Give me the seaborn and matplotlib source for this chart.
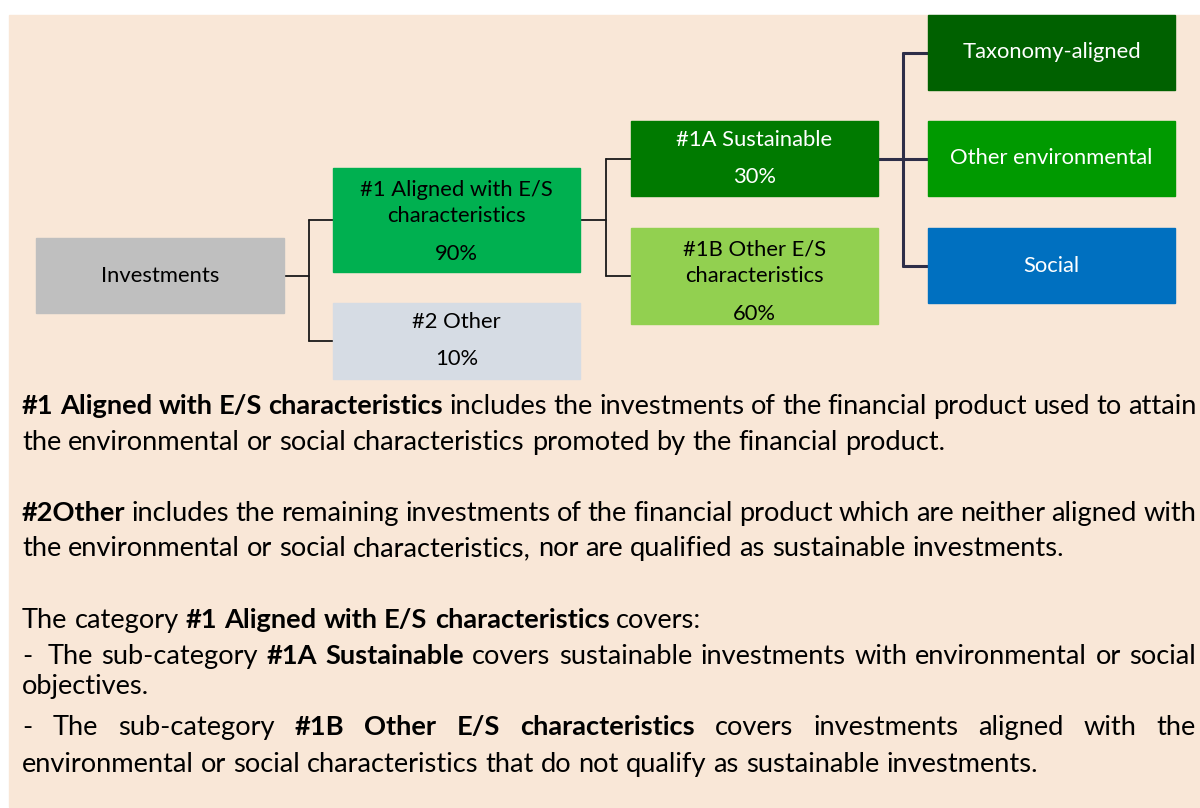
import matplotlib
matplotlib.use("Agg")
import matplotlib.pyplot as plt
import seaborn as sns
from matplotlib.patches import Rectangle

# Data
node_labels = ["Investments", "#1 Aligned with E/S\ncharacteristics", "#2 Other",
               "#1A Sustainable", "#1B Other E/S\ncharacteristics",
               "Taxonomy-aligned", "Other environmental", "Social"]
node_shares = ["", "90%", "10%", "30%", "60%", "", "", ""]
node_colors = ["#BFBFBF", "#00B050", "#D6DCE4", "#007A00", "#92D050",
               "#006100", "#009A00", "#0070C0"]
node_text_colors = ["black", "black", "black", "white", "black", "white", "white", "white"]

# layout: x0, y0, x1, y1 in pixels (top-left origin)
node_boxes = [(36, 238, 284, 313), (333, 168, 580, 272), (333, 303, 580, 379),
              (631, 121, 878, 196), (631, 228, 878, 324),
              (928, 15, 1175, 90), (928, 121, 1175, 196), (928, 228, 1175, 303)]
links = [(0, [1, 2]), (1, [3, 4]), (3, [5, 6, 7])]

paragraphs = [
    ([("#1 Aligned with E/S characteristics", True),
      ("includes the investments of the financial product used to attain", False)], 407, True),
    ([("the environmental or social characteristics promoted by the financial product.", False)], 443, False),
    ([("#2Other", True),
      ("includes the remaining investments of the financial product which are neither aligned with", False)], 514, True),
    ([("the environmental or social characteristics, nor are qualified as sustainable investments.", False)], 549, False),
    ([("The category", False), ("#1 Aligned with E/S characteristics", True), ("covers:", False)], 621, False),
    ([("-  The sub-category", False), ("#1A Sustainable", True),
      ("covers sustainable investments with environmental or social", False)], 657, True),
    ([("objectives.", False)], 687, False),
    ([("- The sub-category", False), ("#1B Other E/S characteristics", True),
      ("covers investments aligned with the", False)], 728, True),
    ([("environmental or social characteristics that do not qualify as sustainable investments.", False)], 765, False),
]

sns.set_theme(style="white")
plt.rcParams['font.family'] = ['Lato', 'DejaVu Sans']

fig = plt.figure(figsize=(12, 8.08), dpi=100)
ax = fig.add_axes([0, 0, 1, 1])
ax.set_xlim(0, 1200)
ax.set_ylim(808, 0)
ax.axis("off")

# peach background panel
ax.add_patch(Rectangle((9, 15), 1191, 792, color="#F9E7D7", zorder=0))

# boxes
for i, (x0, y0, x1, y1) in enumerate(node_boxes):
    ax.add_patch(Rectangle((x0, y0), x1 - x0, y1 - y0, color=node_colors[i], zorder=2))
    cx = (x0 + x1) / 2
    lines = node_labels[i].split("\n")
    if node_shares[i]:
        lines = lines + [node_shares[i]]
    if len(lines) == 1:
        ys = [(y0 + y1) / 2]
    elif len(lines) == 2:
        ys = [y0 + 19, y0 + 56]
    else:
        ys = [y0 + 22, y0 + 48, y0 + 86]
    for t, yy in zip(lines, ys):
        ax.text(cx, yy + 6, t, ha="center", va="baseline", fontsize=15.8,
                color=node_text_colors[i], zorder=3)

# connectors
for parent, kids in links:
    px0, py0, px1, py1 = node_boxes[parent]
    pyc = (py0 + py1) / 2
    kid_y = [(node_boxes[k][1] + node_boxes[k][3]) / 2 for k in kids]
    kx = node_boxes[kids[0]][0]
    mx = (px1 + kx) / 2
    dark = parent == 3
    col = "#2E2E48" if dark else "#1A1A1A"
    lw = 2.2 if dark else 1.3
    ax.plot([px1, mx], [pyc, pyc], color=col, lw=lw, zorder=1)
    ax.plot([mx, mx], [min(kid_y + [pyc]), max(kid_y + [pyc])], color=col, lw=lw, zorder=1)
    for ky in kid_y:
        ax.plot([mx, kx], [ky, ky], color=col, lw=lw, zorder=1)

# body text, drawn word by word so bold runs and justified lines work
renderer = fig.canvas.get_renderer()
fs = 19.6


def text_width(s, bold):
    t = ax.text(0, 0, s, fontsize=fs, fontweight="bold" if bold else "normal")
    w = t.get_window_extent(renderer).width
    t.remove()
    return w


space_w = text_width("a a", False) - text_width("aa", False)
left, right = 22, 1196
for runs, y, justify in paragraphs:
    words = []
    for s, bold in runs:
        for w in s.split(" "):
            if w:
                words.append([w, bold, text_width(w, bold)])
            elif words:
                # repeated space: widen the gap after the previous word
                words[-1][2] += space_w
    gap = space_w
    if justify and len(words) > 1:
        gap = (right - left - sum(w[2] for w in words)) / (len(words) - 1)
    x = left
    for w, b, wd in words:
        ax.text(x, y + 7, w, fontsize=fs, fontweight="bold" if b else "normal",
                ha="left", va="baseline", color="black")
        x += wd + gap

fig.savefig("out.png", dpi=100)
